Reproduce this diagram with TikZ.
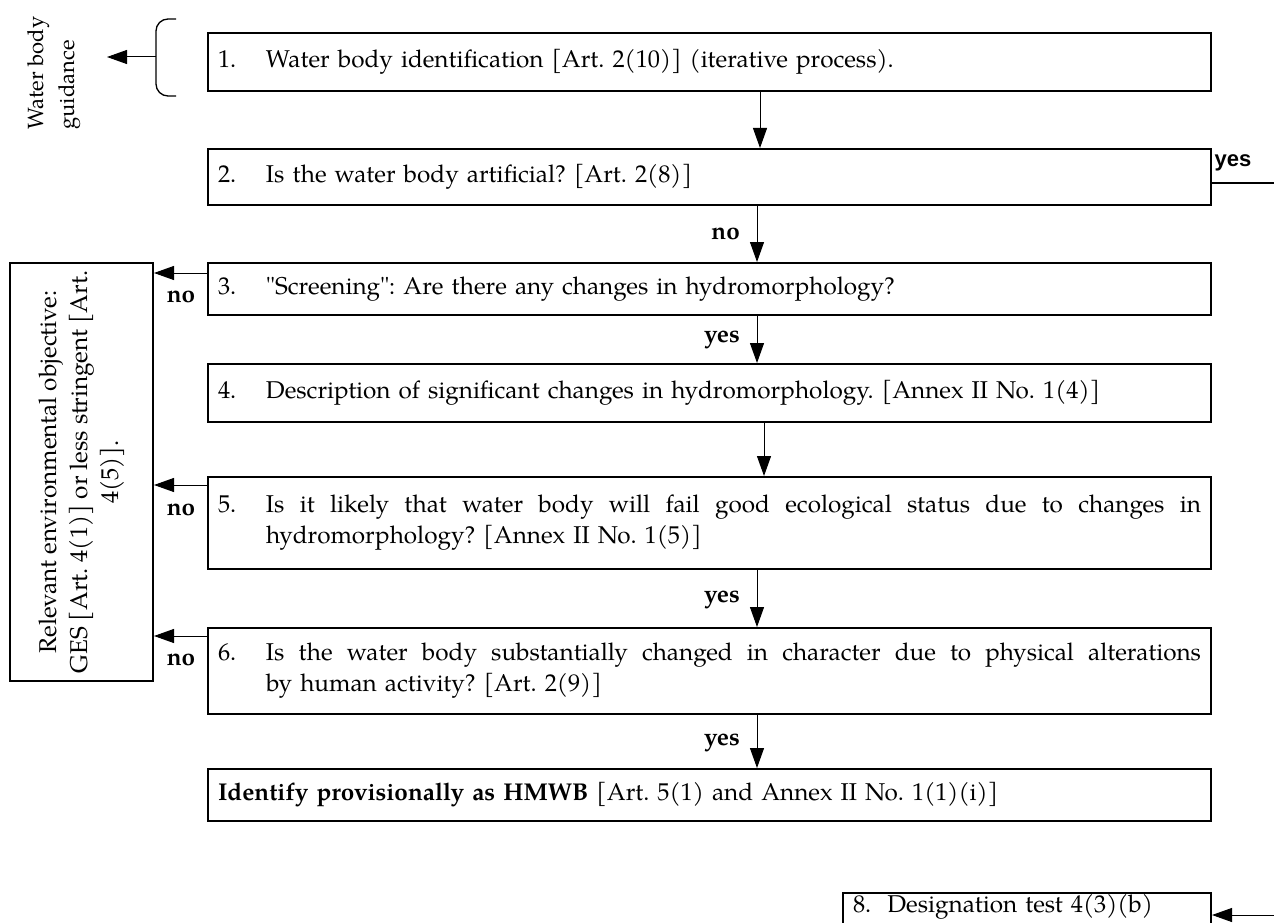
\documentclass[tikz,border=0pt]{standalone}
\usepackage{fontspec}
\setmainfont{texgyrepagella}[Extension=.otf,UprightFont=*-regular,BoldFont=*-bold,ItalicFont=*-italic,BoldItalicFont=*-bolditalic]
\newfontfamily\arialfont{Liberation Sans}
\usetikzlibrary{arrows.meta,calc}
\frenchspacing
\newcommand\bodyfont{\fontsize{24.3}{31}\selectfont\frenchspacing}
\newcommand\numitem[2]{\makebox[48pt][l]{#1}#2}
\newcommand\twoline[3]{\makebox[48pt][l]{#1}\parbox[t]{935pt}{\noindent\hbox to 935pt{\spaceskip=.25em plus 1fil\relax #2}\par\noindent #3}}
\begin{document}
\begin{tikzpicture}[x=1pt,y=-1pt,
  box/.style={draw,line width=2pt,anchor=north west,text width=983pt,inner xsep=10pt,inner ysep=0pt,align=left,font=\bodyfont},
  lbl/.style={font=\bodyfont\bfseries,inner sep=0pt},
  arr/.style={line width=1pt,-{Triangle[length=20pt,width=14pt]}},
  plain/.style={line width=1.5pt}]
\useasboundingbox (0,0) rectangle (1274,923);
% guidance text and brace
\node[rotate=90,anchor=north west,align=left,font=\fontsize{22}{31}\selectfont,inner sep=0pt] (guid) at (27,130) {Water body\\guidance};
\coordinate (brT) at (176,19);
\coordinate (brB) at (176,96);
\coordinate (brM) at (156,57);
\draw[line width=1.3pt,rounded corners=12pt] (brT) -- (156,19) -- (156,96) -- (brB);
\coordinate (gtip) at (107,57);
\draw[arr] (brM) -- (gtip);
% boxes
\node[box,minimum height=58pt] (b1) at (207,32) {\numitem{1.}{Water body identification [Art. 2(10)] (iterative process).}};
\node[box,minimum height=56pt] (b2) at (207,148) {\numitem{2.}{Is the water body artificial? [Art. 2(8)]}};
\node[box,minimum height=52pt] (b3) at (207,262) {\numitem{3.}{\textquotedbl Screening\textquotedbl: Are there any changes in hydromorphology?}};
\node[box,minimum height=58pt] (b4) at (207,363) {\numitem{4.}{Description of significant changes in hydromorphology. [Annex II No. 1(4)]}};
\node[box,minimum height=92pt] (b5) at (207,476) {\twoline{5.}{Is it likely that water body will fail good ecological status due to changes in}{hydromorphology? [Annex II No. 1(5)]}};
\node[box,minimum height=86pt] (b6) at (207,627) {\twoline{6.}{Is the water body substantially changed in character due to physical alterations}{by human activity? [Art. 2(9)]}};
\node[box,minimum height=52pt] (b7) at (207,768) {\textbf{Identify provisionally as HMWB} [Art. 5(1) and Annex II No. 1(1)(i)]};
\node[box,text width=348pt,inner ysep=1pt] (b8) at (842,892) {8.\ \ Designation test 4(3)(b)\rule[-30pt]{0pt}{30pt}};
% objective box
\node[draw,line width=2pt,minimum width=143pt,minimum height=418pt,anchor=north west,inner sep=0pt] (obj) at (9,262) {};
\node[rotate=90,align=center,font=\bodyfont,inner sep=0pt] (objtxt) at (obj.center) {Relevant environmental objective:\\GES [Art. 4(1)] or less stringent [Art.\\4(5)].};
% down arrows
\coordinate (ax) at (757,0);
\coordinate (ax1) at (760,0);
\coordinate (ax4) at (764,0);
\draw[arr] (b1.south -| ax1) -- (b2.north -| ax1);
\draw[arr] (b2.south -| ax) -- (b3.north -| ax);
\draw[arr] (b3.south -| ax) -- (b4.north -| ax);
\draw[arr] (b4.south -| ax4) -- (b5.north -| ax4);
\draw[arr] (b5.south -| ax) -- (b6.north -| ax);
\draw[arr] (b6.south -| ax) -- (b7.north -| ax);
\node[lbl,anchor=east] (l23) at (740,234) {no};
\node[lbl,anchor=east] (l34) at (740,340) {yes};
\node[lbl,anchor=east] (l56) at (740,600) {yes};
\node[lbl,anchor=east] (l67) at (740,743) {yes};
% left arrows
\coordinate (ay3) at (0,273);
\coordinate (ay5) at (0,485);
\coordinate (ay6) at (0,636);
\draw[arr] (b3.west |- ay3) -- (obj.east |- ay3);
\draw[arr] (b5.west |- ay5) -- (obj.east |- ay5);
\draw[arr] (b6.west |- ay6) -- (obj.east |- ay6);
\node[lbl] (n3) at (181,297) {no};
\node[lbl] (n5) at (181,510) {no};
\node[lbl] (n6) at (181,660) {no};
% yes branch top right
\node[font=\arialfont\bfseries\fontsize{22}{26}\selectfont,inner sep=0pt] (ytr) at (1233,163) {yes};
\coordinate (yend) at (1274,183);
\draw[plain] (b2.east |- yend) -- (yend);
% arrow into designation box
\coordinate (dstart) at (1274,915);
\draw[arr] (dstart) -- (b8.east |- dstart);
\end{tikzpicture}
\end{document}
